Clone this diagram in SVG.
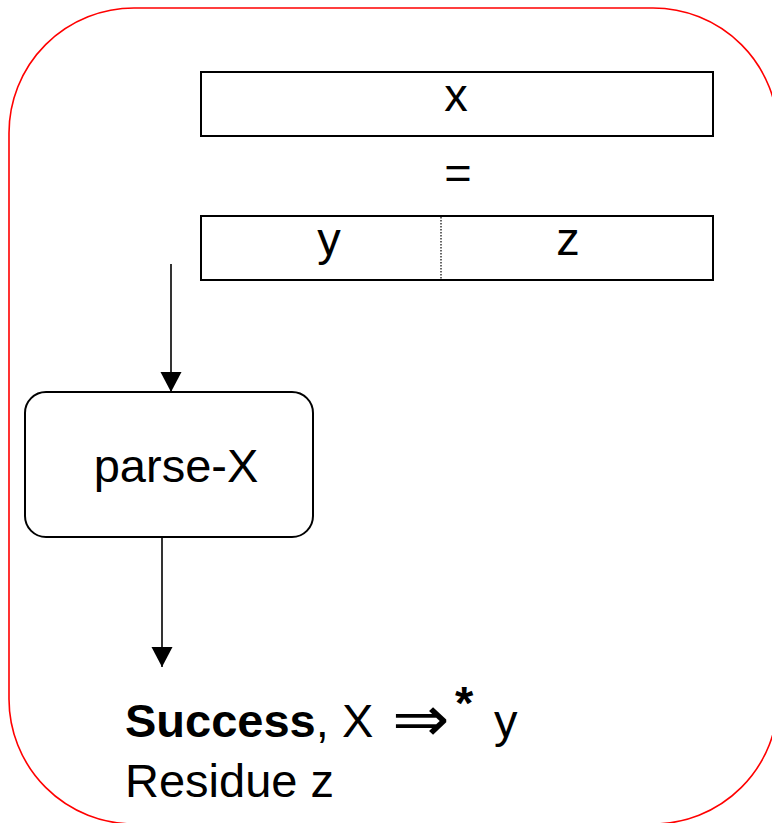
<svg xmlns="http://www.w3.org/2000/svg" width="772" height="823" viewBox="0 0 772 823">
  <style>
    .frame { fill: none; stroke: #ff0000; stroke-width: 1.6; }
    .box { fill: #ffffff; stroke: #000000; stroke-width: 2; }
    .divider { stroke: #000000; stroke-width: 1.2; stroke-dasharray: 1.5 1.5; }
    .edge { stroke: #000000; stroke-width: 1.6; fill: none; }
    .label { font-family: "Liberation Sans", Arial, sans-serif; font-size: 47px; fill: #000000; }
    .sym { font-family: "DejaVu Sans", sans-serif; font-size: 64px; font-weight: 200; fill: #000000; }
    .mid { text-anchor: middle; }
    .bold { font-weight: bold; }
  </style>
  <defs>
    <marker id="arrowhead" markerUnits="userSpaceOnUse" markerWidth="22" markerHeight="22" refX="20" refY="10.5" orient="auto">
      <path d="M0,0 L20,10.5 L0,21 Z" fill="#000000"/>
    </marker>
  </defs>

  <!-- outer red frame -->
  <rect class="frame" x="9" y="8" width="769" height="816" rx="125" ry="125"/>

  <!-- string x -->
  <g id="string-x">
    <rect class="box" x="201" y="72" width="512" height="64"/>
    <text class="label mid" x="456" y="111">x</text>
  </g>

  <!-- equals sign -->
  <g id="equals">
    <text class="label mid" x="458" y="189">=</text>
  </g>

  <!-- split y | z -->
  <g id="string-yz">
    <rect class="box" x="201" y="216" width="512" height="64"/>
    <line class="divider" x1="441" y1="217" x2="441" y2="279"/>
    <text class="label mid" x="329" y="255">y</text>
    <text class="label mid" x="568" y="255">z</text>
  </g>

  <!-- parser node -->
  <g id="parse-x">
    <rect class="box" x="25" y="392" width="288" height="145" rx="21" ry="21" stroke-width="1.6"/>
    <text class="label mid" x="176" y="482">parse-X</text>
  </g>

  <!-- result: Success, X =>* y / Residue z -->
  <g id="result">
    <text class="label" x="125" y="737"><tspan class="bold">Success</tspan>, X</text>
    <text class="sym" x="392" y="741" textLength="58" lengthAdjust="spacingAndGlyphs">⇒</text>
    <text class="label bold" x="455" y="719" font-size="58">*</text>
    <text class="label" x="494" y="737">y</text>
    <text class="label" x="125" y="797">Residue z</text>
  </g>

  <!-- connectors -->
  <g id="connectors">
    <line class="edge" x1="171" y1="264" x2="171" y2="392" marker-end="url(#arrowhead)"/>
    <line class="edge" x1="162" y1="537" x2="162" y2="667" marker-end="url(#arrowhead)"/>
  </g>
</svg>
